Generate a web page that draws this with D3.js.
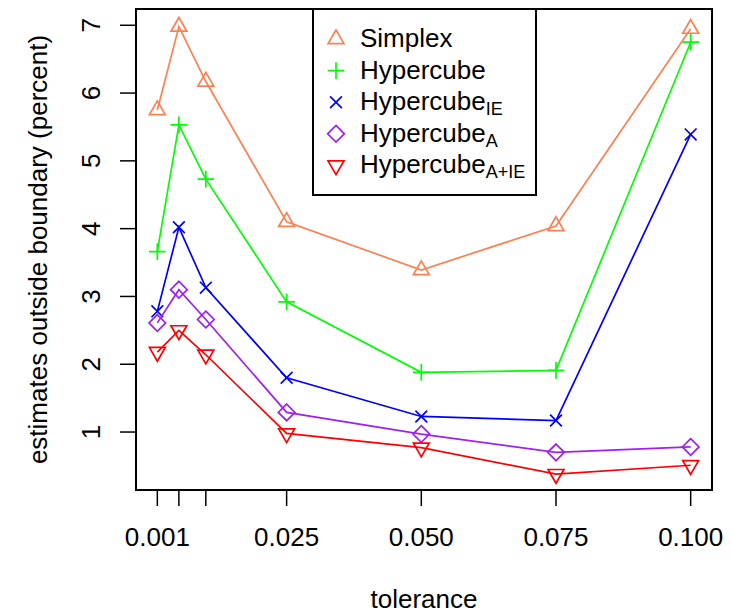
<!DOCTYPE html>
<html>
<head>
<meta charset="utf-8">
<script src="https://cdn.jsdelivr.net/npm/d3@7"></script>
<style>
  body { margin: 0; background: #fff; }
  text { font-family: "Liberation Sans", Arial, sans-serif; fill: #000; }
</style>
</head>
<body>
<svg id="chart" width="732" height="616"></svg>
<script>
// values
const tolerance = [0.001, 0.005, 0.01, 0.025, 0.05, 0.075, 0.1];
const simplex      = [5.75, 6.98, 6.17, 4.10, 3.39, 4.04, 6.95];
const hypercube    = [3.66, 5.53, 4.73, 2.92, 1.88, 1.91, 6.75];
const hypercubeIE  = [2.78, 4.02, 3.13, 1.80, 1.23, 1.17, 5.39];
const hypercubeA   = [2.61, 3.10, 2.66, 1.29, 0.97, 0.70, 0.78];
const hypercubeAIE = [2.18, 2.50, 2.14, 0.98, 0.77, 0.38, 0.51];

const seriesNames = ["Simplex", "Hypercube", "Hypercube", "Hypercube", "Hypercube"];
const seriesSubs  = ["", "", "IE", "A", "A+IE"];
const seriesColors = ["#FF7F50", "#00FF00", "#0000FF", "#A020F0", "#FF0000"];
const seriesShapes = ["triUp", "plus", "cross", "diamond", "triDown"];

const xTicks = [0.001, 0.005, 0.01, 0.025, 0.05, 0.075, 0.1];
const xTickLabels = ["0.001", "", "", "0.025", "0.050", "0.075", "0.100"];
const yTicks = [1, 2, 3, 4, 5, 6, 7];

const series = [simplex, hypercube, hypercubeIE, hypercubeA, hypercubeAIE];

let svg = d3.select("#chart");
let plotL = 136, plotR = 712, plotT = 9, plotB = 490;

let x = d3.scaleLinear().domain([-0.00296, 0.10396]).range([plotL, plotR]);
let y = d3.scaleLinear().domain([0.145, 7.24]).range([plotB, plotT]);

// marker shapes, sized like R's pch symbols
const R = 5.9;
function shapePath(kind) {
    let p = d3.path();
    if (kind == "triUp" || kind == "triDown") {
        let s = kind == "triUp" ? 1 : -1;
        let r = 1.555 * R, xc = 1.347 * R, yc = 0.778 * R;
        p.moveTo(0, -s * r);
        p.lineTo(xc, s * yc);
        p.lineTo(-xc, s * yc);
        p.closePath();
    } else if (kind == "plus") {
        let a = Math.SQRT2 * R;
        p.moveTo(-a, 0); p.lineTo(a, 0);
        p.moveTo(0, -a); p.lineTo(0, a);
    } else if (kind == "cross") {
        let a = R;
        p.moveTo(-a, -a); p.lineTo(a, a);
        p.moveTo(-a, a); p.lineTo(a, -a);
    } else if (kind == "diamond") {
        let a = Math.SQRT2 * R;
        p.moveTo(0, -a); p.lineTo(a, 0); p.lineTo(0, a); p.lineTo(-a, 0);
        p.closePath();
    }
    return p.toString();
}

// lines + points
let line = d3.line()
    .x((d, i) => x(tolerance[i]))
    .y(d => y(d));

series.forEach(function(vals, k) {
    let g = svg.append("g");
    g.append("path")
        .attr("d", line(vals))
        .attr("fill", "none")
        .attr("stroke", seriesColors[k])
        .attr("stroke-width", 1.7);
    g.selectAll("path.pt")
        .data(vals)
        .enter()
        .append("path")
        .attr("class", "pt")
        .attr("d", shapePath(seriesShapes[k]))
        .attr("transform", (d, i) => "translate(" + x(tolerance[i]) + "," + y(d) + ")")
        .attr("fill", "none")
        .attr("stroke", seriesColors[k])
        .attr("stroke-width", 1.7);
});

// box
svg.append("rect")
    .attr("x", plotL).attr("y", plotT)
    .attr("width", plotR - plotL).attr("height", plotB - plotT)
    .attr("fill", "none")
    .attr("stroke", "#000")
    .attr("stroke-width", 2);

// x axis ticks
svg.selectAll("line.xt")
    .data(xTicks)
    .enter()
    .append("line")
    .attr("x1", d => x(d)).attr("x2", d => x(d))
    .attr("y1", plotB).attr("y2", plotB + 16)
    .attr("stroke", "#000").attr("stroke-width", 1.5);

svg.selectAll("text.xl")
    .data(xTicks)
    .enter()
    .append("text")
    .attr("x", d => x(d))
    .attr("y", 546)
    .attr("text-anchor", "middle")
    .style("font-size", "26px")
    .text((d, i) => xTickLabels[i]);

// y axis ticks
svg.selectAll("line.yt")
    .data(yTicks)
    .enter()
    .append("line")
    .attr("x1", plotL - 16).attr("x2", plotL)
    .attr("y1", d => y(d)).attr("y2", d => y(d))
    .attr("stroke", "#000").attr("stroke-width", 1.5);

svg.selectAll("text.yl")
    .data(yTicks)
    .enter()
    .append("text")
    .attr("transform", d => "translate(100," + y(d) + ") rotate(-90)")
    .attr("text-anchor", "middle")
    .style("font-size", "26px")
    .text(d => d);

// axis titles
svg.append("text")
    .attr("x", (plotL + plotR) / 2)
    .attr("y", 608)
    .attr("text-anchor", "middle")
    .style("font-size", "26px")
    .text("tolerance");

svg.append("text")
    .attr("transform", "translate(47," + ((plotT + plotB) / 2) + ") rotate(-90)")
    .attr("text-anchor", "middle")
    .style("font-size", "26px")
    .text("estimates outside boundary (percent)");

// legend
let legend = svg.append("g");
legend.append("rect")
    .attr("x", 313).attr("y", plotT)
    .attr("width", 223).attr("height", 186)
    .attr("fill", "#fff")
    .attr("stroke", "#000")
    .attr("stroke-width", 2);

seriesNames.forEach(function(name, k) {
    let cy = 39 + k * 31.6;
    legend.append("path")
        .attr("d", shapePath(seriesShapes[k]))
        .attr("transform", "translate(336," + cy + ")")
        .attr("fill", "none")
        .attr("stroke", seriesColors[k])
        .attr("stroke-width", 1.7);
    let t = legend.append("text")
        .attr("x", 360)
        .attr("y", cy + 8)
        .style("font-size", "26px");
    t.append("tspan").text(name);
    if (seriesSubs[k] != "") {
        t.append("tspan")
            .attr("dy", 5)
            .style("font-size", "18px")
            .text(seriesSubs[k]);
    }
});
</script>
</body>
</html>
